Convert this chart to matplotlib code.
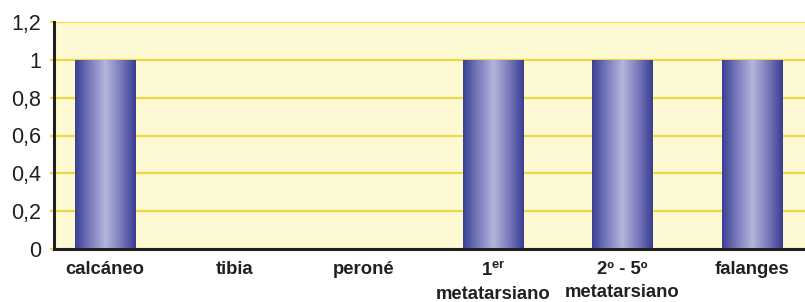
import matplotlib.pyplot as plt
import numpy as np
from matplotlib.colors import LinearSegmentedColormap

plt.rcParams['font.family'] = ['Liberation Sans', 'DejaVu Sans']
plt.rcParams['mathtext.fontset'] = 'custom'
plt.rcParams['mathtext.rm'] = 'Liberation Sans:bold'
plt.rcParams['mathtext.bf'] = 'Liberation Sans:bold'
plt.rcParams['mathtext.it'] = 'Liberation Sans:bold'

categories = ["calcáneo", "tibia", "peroné", r"1$^{\mathrm{er}}$" + "\nmetatarsiano",
              "2º - 5º\nmetatarsiano", "falanges"]
values = [1, 0, 0, 1, 1, 1]
yticks = [0, 0.2, 0.4, 0.6, 0.8, 1, 1.2]
ytick_labels = ["0", "0,2", "0,4", "0,6", "0,8", "1", "1,2"]

fig = plt.figure(figsize=(8.05, 3.02), dpi=100)
ax = fig.add_axes([54 / 805, 1 - 249 / 302, 751 / 805, 227 / 302])
ax.set_facecolor('#fdf9d3')

x = np.arange(len(categories))
bars = ax.bar(x, values, width=0.47, color='none', zorder=3)

cmap = LinearSegmentedColormap.from_list('bar', ['#3a4195', '#7a7cbc', '#b5b5dd', '#7a7cbc', '#383d92'])
grad = np.linspace(0, 1, 256).reshape(1, -1)
for b in bars:
    if b.get_height() <= 0:
        continue
    x0, w, h = b.get_x(), b.get_width(), b.get_height()
    im = ax.imshow(grad, cmap=cmap, aspect='auto', extent=[x0, x0 + w, 0, h],
                   zorder=3, interpolation='bilinear')
    im.set_clip_path(b)

ax.set_xlim(-0.395, 5.41)
ax.set_ylim(0, 1.2)
ax.set_yticks(yticks)
ax.set_yticklabels(ytick_labels)
ax.set_xticks(x)
ax.set_xticklabels(categories, fontsize=13.3, fontweight='bold', color='#231f20',
                   linespacing=1.45)
ax.grid(axis='y', color='#eed944', linewidth=1.6, zorder=1)
ax.tick_params(axis='y', length=3, width=1.6, color='#eed944', labelsize=15.5,
               labelcolor='#231f20', pad=6)
ax.tick_params(axis='x', length=0, pad=9)

for s in ['top', 'right']:
    ax.spines[s].set_visible(False)
for s in ['left', 'bottom']:
    ax.spines[s].set_color('#231f20')
    ax.spines[s].set_linewidth(2.2)
    ax.spines[s].set_zorder(4)

fig.savefig('out.png', dpi=100)
